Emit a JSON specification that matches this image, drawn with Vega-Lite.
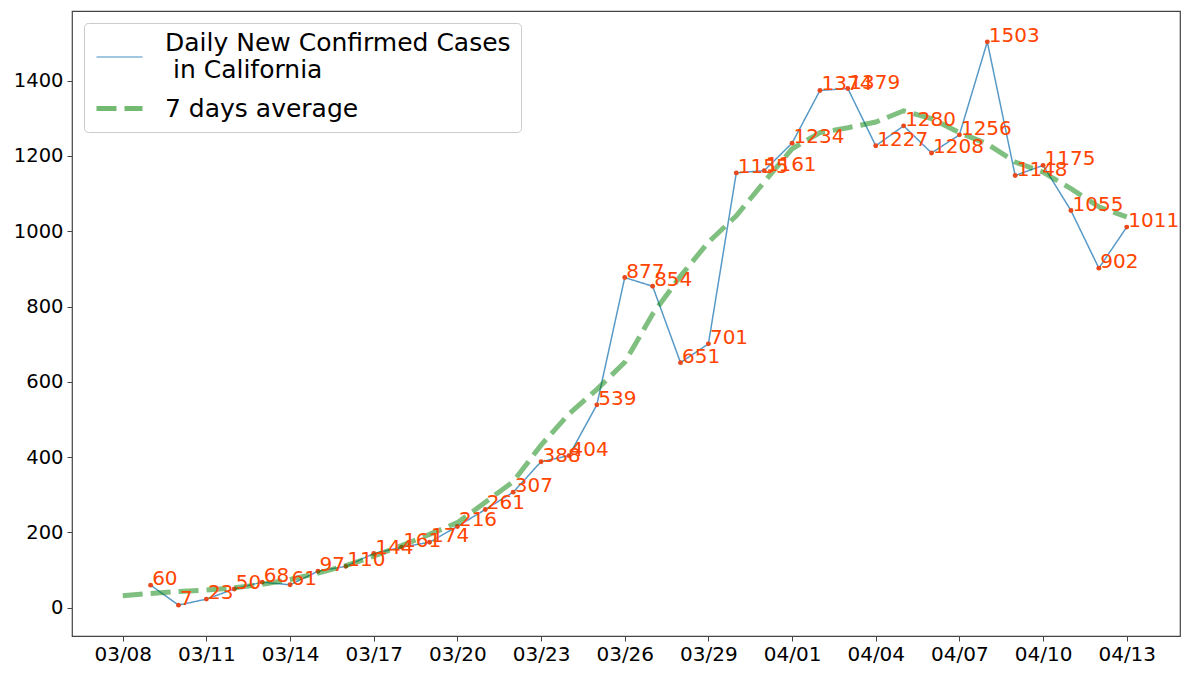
{
  "$schema": "https://vega.github.io/schema/vega-lite/v6.json",
  "width": 1108,
  "height": 625,
  "autosize": {"type": "none"},
  "padding": {"left": 72, "top": 11, "right": 20, "bottom": 39},
  "background": "white",
  "config": {
    "font": "DejaVu Sans",
    "view": {"stroke": "#444444", "strokeWidth": 1.2}
  },
  "data": {
    "values": [
      {"date": "2020-03-09", "series": "daily", "value": 60},
      {"date": "2020-03-10", "series": "daily", "value": 7},
      {"date": "2020-03-11", "series": "daily", "value": 23},
      {"date": "2020-03-12", "series": "daily", "value": 50},
      {"date": "2020-03-13", "series": "daily", "value": 68},
      {"date": "2020-03-14", "series": "daily", "value": 61},
      {"date": "2020-03-15", "series": "daily", "value": 97},
      {"date": "2020-03-16", "series": "daily", "value": 110},
      {"date": "2020-03-17", "series": "daily", "value": 144},
      {"date": "2020-03-18", "series": "daily", "value": 161},
      {"date": "2020-03-19", "series": "daily", "value": 174},
      {"date": "2020-03-20", "series": "daily", "value": 216},
      {"date": "2020-03-21", "series": "daily", "value": 261},
      {"date": "2020-03-22", "series": "daily", "value": 307},
      {"date": "2020-03-23", "series": "daily", "value": 388},
      {"date": "2020-03-24", "series": "daily", "value": 404},
      {"date": "2020-03-25", "series": "daily", "value": 539},
      {"date": "2020-03-26", "series": "daily", "value": 877},
      {"date": "2020-03-27", "series": "daily", "value": 854},
      {"date": "2020-03-28", "series": "daily", "value": 651},
      {"date": "2020-03-29", "series": "daily", "value": 701},
      {"date": "2020-03-30", "series": "daily", "value": 1155},
      {"date": "2020-03-31", "series": "daily", "value": 1161},
      {"date": "2020-04-01", "series": "daily", "value": 1234},
      {"date": "2020-04-02", "series": "daily", "value": 1374},
      {"date": "2020-04-03", "series": "daily", "value": 1379},
      {"date": "2020-04-04", "series": "daily", "value": 1227},
      {"date": "2020-04-05", "series": "daily", "value": 1280},
      {"date": "2020-04-06", "series": "daily", "value": 1208},
      {"date": "2020-04-07", "series": "daily", "value": 1256},
      {"date": "2020-04-08", "series": "daily", "value": 1503},
      {"date": "2020-04-09", "series": "daily", "value": 1148},
      {"date": "2020-04-10", "series": "daily", "value": 1175},
      {"date": "2020-04-11", "series": "daily", "value": 1055},
      {"date": "2020-04-12", "series": "daily", "value": 902},
      {"date": "2020-04-13", "series": "daily", "value": 1011},
      {"date": "2020-03-08", "series": "avg", "value": 32},
      {"date": "2020-03-09", "series": "avg", "value": 38},
      {"date": "2020-03-10", "series": "avg", "value": 43},
      {"date": "2020-03-11", "series": "avg", "value": 47},
      {"date": "2020-03-12", "series": "avg", "value": 53},
      {"date": "2020-03-13", "series": "avg", "value": 62},
      {"date": "2020-03-14", "series": "avg", "value": 75},
      {"date": "2020-03-15", "series": "avg", "value": 92},
      {"date": "2020-03-16", "series": "avg", "value": 112},
      {"date": "2020-03-17", "series": "avg", "value": 137},
      {"date": "2020-03-18", "series": "avg", "value": 165},
      {"date": "2020-03-19", "series": "avg", "value": 195},
      {"date": "2020-03-20", "series": "avg", "value": 226},
      {"date": "2020-03-21", "series": "avg", "value": 280},
      {"date": "2020-03-22", "series": "avg", "value": 335},
      {"date": "2020-03-23", "series": "avg", "value": 432},
      {"date": "2020-03-24", "series": "avg", "value": 515},
      {"date": "2020-03-25", "series": "avg", "value": 580},
      {"date": "2020-03-26", "series": "avg", "value": 652},
      {"date": "2020-03-27", "series": "avg", "value": 780},
      {"date": "2020-03-28", "series": "avg", "value": 881},
      {"date": "2020-03-29", "series": "avg", "value": 971},
      {"date": "2020-03-30", "series": "avg", "value": 1041},
      {"date": "2020-03-31", "series": "avg", "value": 1131},
      {"date": "2020-04-01", "series": "avg", "value": 1219},
      {"date": "2020-04-02", "series": "avg", "value": 1262},
      {"date": "2020-04-03", "series": "avg", "value": 1275},
      {"date": "2020-04-04", "series": "avg", "value": 1290},
      {"date": "2020-04-05", "series": "avg", "value": 1320},
      {"date": "2020-04-06", "series": "avg", "value": 1299},
      {"date": "2020-04-07", "series": "avg", "value": 1262},
      {"date": "2020-04-08", "series": "avg", "value": 1232},
      {"date": "2020-04-09", "series": "avg", "value": 1184},
      {"date": "2020-04-10", "series": "avg", "value": 1157},
      {"date": "2020-04-11", "series": "avg", "value": 1113},
      {"date": "2020-04-12", "series": "avg", "value": 1065},
      {"date": "2020-04-13", "series": "avg", "value": 1038}
    ]
  },
  "encoding": {
    "x": {
      "field": "date",
      "type": "temporal",
      "scale": {
        "type": "utc",
        "domain": [
          {"year": 2020, "month": 3, "date": 6, "hours": 4, "minutes": 20, "utc": true},
          {"year": 2020, "month": 4, "date": 14, "hours": 21, "minutes": 50, "utc": true}
        ]
      },
      "axis": {
        "values": [
          {"year": 2020, "month": 3, "date": 8, "utc": true},
          {"year": 2020, "month": 3, "date": 11, "utc": true},
          {"year": 2020, "month": 3, "date": 14, "utc": true},
          {"year": 2020, "month": 3, "date": 17, "utc": true},
          {"year": 2020, "month": 3, "date": 20, "utc": true},
          {"year": 2020, "month": 3, "date": 23, "utc": true},
          {"year": 2020, "month": 3, "date": 26, "utc": true},
          {"year": 2020, "month": 3, "date": 29, "utc": true},
          {"year": 2020, "month": 4, "date": 1, "utc": true},
          {"year": 2020, "month": 4, "date": 4, "utc": true},
          {"year": 2020, "month": 4, "date": 7, "utc": true},
          {"year": 2020, "month": 4, "date": 10, "utc": true},
          {"year": 2020, "month": 4, "date": 13, "utc": true}
        ],
        "format": "%m/%d",
        "title": null,
        "grid": false,
        "domain": false,
        "labelFontSize": 20,
        "labelColor": "black",
        "labelFont": "DejaVu Sans",
        "tickColor": "#444444",
        "tickSize": 5,
        "labelPadding": 3,
        "labelFlush": false,
        "labelOverlap": false
      }
    },
    "y": {
      "field": "value",
      "type": "quantitative",
      "scale": {"domain": [-75, 1585], "nice": false, "zero": false},
      "axis": {
        "values": [0, 200, 400, 600, 800, 1000, 1200, 1400],
        "format": "d",
        "title": null,
        "grid": false,
        "domain": false,
        "labelFontSize": 19.5,
        "labelColor": "black",
        "labelFont": "DejaVu Sans",
        "tickColor": "#444444",
        "tickSize": 5,
        "labelPadding": 4
      }
    }
  },
  "layer": [
    {
      "transform": [{"filter": "datum.series === 'daily'"}],
      "mark": {"type": "line"},
      "encoding": {
        "color": {
          "field": "series", "type": "nominal",
          "scale": {"domain": ["daily", "avg"], "range": ["#1f77b4", "#008000"]},
          "legend": {
            "title": null, "orient": "top-left", "offset": 12, "padding": 10,
            "strokeColor": "#cccccc", "cornerRadius": 4, "fillColor": "rgba(255,255,255,0.8)",
            "labelFontSize": 25, "labelFont": "DejaVu Sans", "labelColor": "black", "labelLimit": 0,
            "labelOffset": 20, "symbolType": "stroke", "symbolSize": 2116, "rowPadding": 0,
            "symbolOpacity": 0.55, "labelLineHeight": 28,
            "labelExpr": "datum.label === 'daily' ? ['Daily New Confirmed Cases', '\u200b in California'] : '7 days average'",
            "encode": {"labels": {"update": {"dy": {"signal": "datum.value === 'daily' ? -14 : 0"}}}}
          }
        },
        "strokeDash": {
          "field": "series", "type": "nominal",
          "scale": {"domain": ["daily", "avg"], "range": [[1, 0], [20, 8]]},
          "legend": {
            "title": null, "orient": "top-left", "offset": 12, "padding": 10,
            "strokeColor": "#cccccc", "cornerRadius": 4, "fillColor": "rgba(255,255,255,0.8)",
            "labelFontSize": 25, "labelFont": "DejaVu Sans", "labelColor": "black", "labelLimit": 0,
            "labelOffset": 20, "symbolType": "stroke", "symbolSize": 2116, "rowPadding": 0,
            "symbolOpacity": 0.55, "labelLineHeight": 28,
            "labelExpr": "datum.label === 'daily' ? ['Daily New Confirmed Cases', '\u200b in California'] : '7 days average'",
            "encode": {"labels": {"update": {"dy": {"signal": "datum.value === 'daily' ? -14 : 0"}}}}
          }
        },
        "strokeWidth": {
          "field": "series", "type": "ordinal",
          "scale": {"domain": ["daily", "avg"], "range": [1.5, 5]},
          "legend": {
            "title": null, "orient": "top-left", "offset": 12, "padding": 10,
            "strokeColor": "#cccccc", "cornerRadius": 4, "fillColor": "rgba(255,255,255,0.8)",
            "labelFontSize": 25, "labelFont": "DejaVu Sans", "labelColor": "black", "labelLimit": 0,
            "labelOffset": 20, "symbolType": "stroke", "symbolSize": 2116, "rowPadding": 0,
            "symbolOpacity": 0.55, "labelLineHeight": 28,
            "labelExpr": "datum.label === 'daily' ? ['Daily New Confirmed Cases', '\u200b in California'] : '7 days average'",
            "encode": {"labels": {"update": {"dy": {"signal": "datum.value === 'daily' ? -14 : 0"}}}}
          }
        },
        "strokeOpacity": {
          "field": "series", "type": "ordinal",
          "scale": {"domain": ["daily", "avg"], "range": [0.75, 0.5]},
          "legend": null
        }
      }
    },
    {
      "transform": [{"filter": "datum.series === 'daily'"}],
      "mark": {"type": "point", "filled": true, "size": 24, "color": "#e8481c", "opacity": 1}
    },
    {
      "transform": [{"filter": "datum.series === 'avg'"}],
      "mark": {"type": "line"},
      "encoding": {
        "color": {"field": "series", "type": "nominal", "scale": {"domain": ["daily", "avg"], "range": ["#1f77b4", "#008000"]}},
        "strokeDash": {"field": "series", "type": "nominal", "scale": {"domain": ["daily", "avg"], "range": [[1, 0], [20, 8]]}},
        "strokeWidth": {"field": "series", "type": "ordinal", "scale": {"domain": ["daily", "avg"], "range": [1.5, 5]}},
        "strokeOpacity": {"field": "series", "type": "ordinal", "scale": {"domain": ["daily", "avg"], "range": [0.75, 0.5]}, "legend": null}
      }
    },
    {
      "transform": [{"filter": "datum.series === 'daily'"}],
      "mark": {"type": "text", "align": "left", "baseline": "alphabetic", "dx": 1.5, "fontSize": 20, "font": "DejaVu Sans", "color": "#ff4500"},
      "encoding": {"text": {"field": "value", "type": "quantitative"}}
    }
  ]
}
